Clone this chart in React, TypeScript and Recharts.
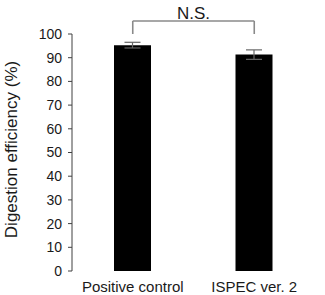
import { BarChart, Bar, XAxis, YAxis, ErrorBar, ReferenceLine, Label } from 'recharts';

const groups = ['Positive control', 'ISPEC ver.  2'];
const efficiency = [95.3, 91.3];
const sem = [1.2, 2.0];
const yTicks = [0, 10, 20, 30, 40, 50, 60, 70, 80, 90, 100];
const edgeTicks = [0, 1, 2];
const bracketLevel = 105.5;

const data = groups.map((g, i) => ({ group: g, value: efficiency[i], err: sem[i] }));

const font = 'Arial, "Liberation Sans", sans-serif';
const yTickFont = { fontFamily: font, fontSize: 14, fill: '#1a1a1a' };
const xTickFont = { fontFamily: font, fontSize: 15, fill: '#1a1a1a', whiteSpace: 'pre' };
const axisColor = '#404040';
const bracketColor = '#8a8a8a';

// rotated axis title, placed from the y-axis viewBox
const YTitle = ({ viewBox }: any) => {
  const cx = viewBox.x + 11;
  const cy = viewBox.y + viewBox.height / 2 - 3;
  return (
    <text
      x={cx}
      y={cy}
      transform={`rotate(-90, ${cx}, ${cy})`}
      textAnchor="middle"
      dominantBaseline="central"
      fontFamily={font}
      fontSize={17}
      fill="#1a1a1a"
    >
      Digestion efficiency (%)
    </text>
  );
};

export default function App() {
  return (
    <div style={{ position: 'absolute', left: 0, top: 0, width: 325, height: 295, background: '#fff' }}>
      <BarChart width={325} height={295} data={data} margin={{ top: 34, right: 10, bottom: 0, left: 0 }}>
        {/* boundary ticks between the two groups */}
        <XAxis
          xAxisId="edges"
          type="number"
          domain={[0, 2]}
          ticks={edgeTicks}
          height={0}
          tick={false}
          tickSize={5}
          stroke={axisColor}
          allowDataOverflow
        />
        <XAxis
          xAxisId="cat"
          dataKey="group"
          height={24}
          axisLine={false}
          tickLine={false}
          tickSize={6}
          tickMargin={4}
          tick={xTickFont}
          interval={0}
        />
        <YAxis
          domain={[0, 100]}
          ticks={yTicks}
          width={72}
          tickSize={4}
          tickMargin={6}
          tick={yTickFont}
          stroke={axisColor}
          interval={0}
        >
          <Label content={YTitle} />
        </YAxis>
        <Bar xAxisId="cat" dataKey="value" fill="#000" barSize={37} isAnimationActive={false}>
          <ErrorBar dataKey="err" width={8} stroke="#666" strokeWidth={1.2} />
        </Bar>
        {/* significance bracket */}
        <ReferenceLine
          xAxisId="cat"
          segment={[{ x: groups[0], y: bracketLevel }, { x: groups[1], y: bracketLevel }]}
          stroke={bracketColor}
          strokeWidth={1.6}
          ifOverflow="visible"
        >
          <Label value="N.S." position="top" offset={2} style={{ fontFamily: font, fontSize: 17, fill: '#1a1a1a' }} />
        </ReferenceLine>
        <ReferenceLine
          xAxisId="cat"
          segment={[{ x: groups[0], y: bracketLevel }, { x: groups[0], y: 100 }]}
          stroke={bracketColor}
          strokeWidth={1.6}
          ifOverflow="visible"
        />
        <ReferenceLine
          xAxisId="cat"
          segment={[{ x: groups[1], y: bracketLevel }, { x: groups[1], y: 100 }]}
          stroke={bracketColor}
          strokeWidth={1.6}
          ifOverflow="visible"
        />
      </BarChart>
    </div>
  );
}
